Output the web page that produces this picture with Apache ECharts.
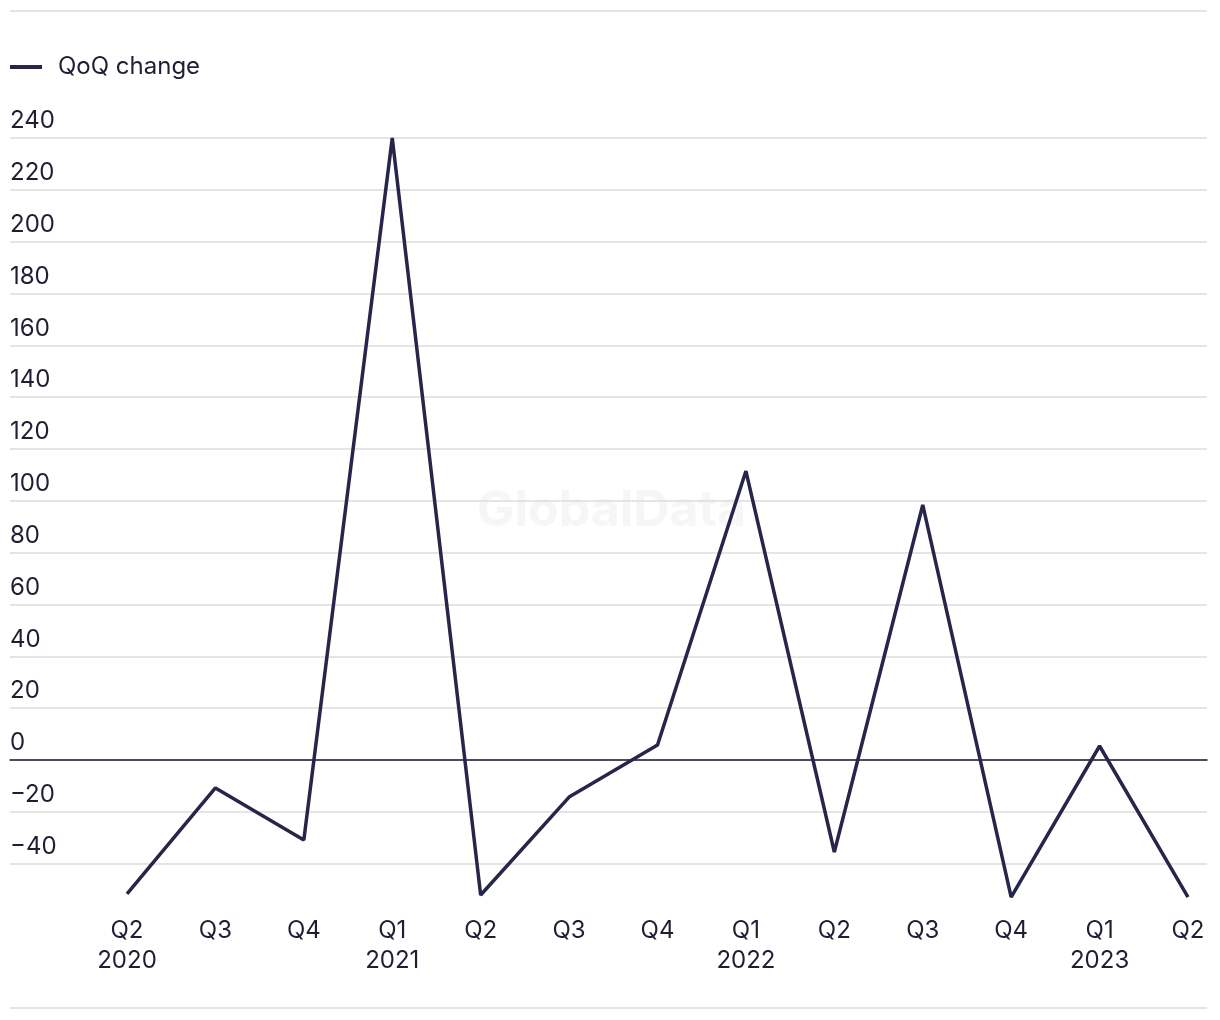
<!DOCTYPE html>
<html>
<head>
<meta charset="utf-8">
<script src="https://cdn.jsdelivr.net/npm/echarts@6/dist/echarts.min.js"></script>
<style>html,body{margin:0;padding:0;background:#fff}#c{width:1220px;height:1020px}</style>
</head>
<body>
<div id="c"></div>
<script>
const quarters = ['Q2\n2020','Q3','Q4','Q1\n2021','Q2','Q3','Q4','Q1\n2022','Q2','Q3','Q4','Q1\n2023','Q2'];
const qoqChange = [-51.7, -10.8, -30.9, 240, -52.1, -14.3, 5.8, 111.5, -35.5, 98.4, -52.9, 5.4, -52.9];
const seriesName = 'QoQ change';
const yMin = -60, yMax = 240, yStep = 20;

const FONT = 'Inter';
const FS = 24;
const TEXT = '#1f1e33';
const LINE = '#27264a';
const chart = echarts.init(document.getElementById('c'), null, {renderer: 'canvas'});
const gridTop = 138, gridBottom = 104.5;
chart.setOption({
  animation: false,
  backgroundColor: '#fff',
  textStyle: {fontFamily: FONT},
  legend: {
    left: 10, top: 55, padding: 0,
    icon: 'rect', itemWidth: 32, itemHeight: 4,
    textStyle: {fontFamily: FONT, fontSize: FS, color: TEXT, padding: [0,0,0,11]},
    data: [seriesName]
  },
  graphic: [
    {type: 'line', shape: {x1: 10, y1: 11, x2: 1207, y2: 11}, style: {stroke: '#dcdcdc', lineWidth: 1.5}},
    {type: 'line', shape: {x1: 10, y1: 1008, x2: 1207, y2: 1008}, style: {stroke: '#dcdcdc', lineWidth: 1.5}},
    {type: 'text', left: 477, top: 486, z: -1, style: {text: 'GlobalData', fontFamily: FONT, fontWeight: 'bold', fontSize: 50, fill: '#f6f6f6'}}
  ],
  grid: [
    {left: 10, right: 13, top: gridTop, bottom: gridBottom},
    {left: 127, right: 32, top: gridTop, bottom: gridBottom}
  ],
  xAxis: [
    {gridIndex: 0, type: 'value', min: 0, max: 1, axisLine: {show: true, onZero: true, lineStyle: {color: '#1a1930', width: 1.5}},
     axisTick: {show: false}, axisLabel: {show: false}, splitLine: {show: false}},
    {gridIndex: 1, type: 'category', data: quarters, boundaryGap: false,
     axisLine: {show: false}, axisTick: {show: false},
     axisLabel: {interval: 0, fontFamily: FONT, fontSize: FS, color: TEXT, lineHeight: 30, margin: 0}}
  ],
  yAxis: [
    {gridIndex: 0, type: 'value', min: yMin, max: yMax, interval: yStep,
     axisLine: {show: false}, axisTick: {show: false},
     axisLabel: {inside: true, showMinLabel: false, margin: 0, align: 'left', verticalAlign: 'bottom', padding: [0,0,5,0],
       fontFamily: FONT, fontSize: FS, color: TEXT,
       formatter: v => v === yMin ? '' : String(v).replace('-', '\u2212')},
     splitLine: {show: true, showMinLine: false, lineStyle: {color: '#dcdcdc', width: 1.5}}},
    {gridIndex: 1, type: 'value', min: yMin, max: yMax, interval: yStep, show: false, splitLine: {show: false}}
  ],
  series: [{
    name: seriesName, type: 'line', xAxisIndex: 1, yAxisIndex: 1,
    data: qoqChange, symbol: 'none', lineStyle: {color: LINE, width: 3.5}, itemStyle: {color: LINE}, z: 5
  }]
});
</script>
</body>
</html>
